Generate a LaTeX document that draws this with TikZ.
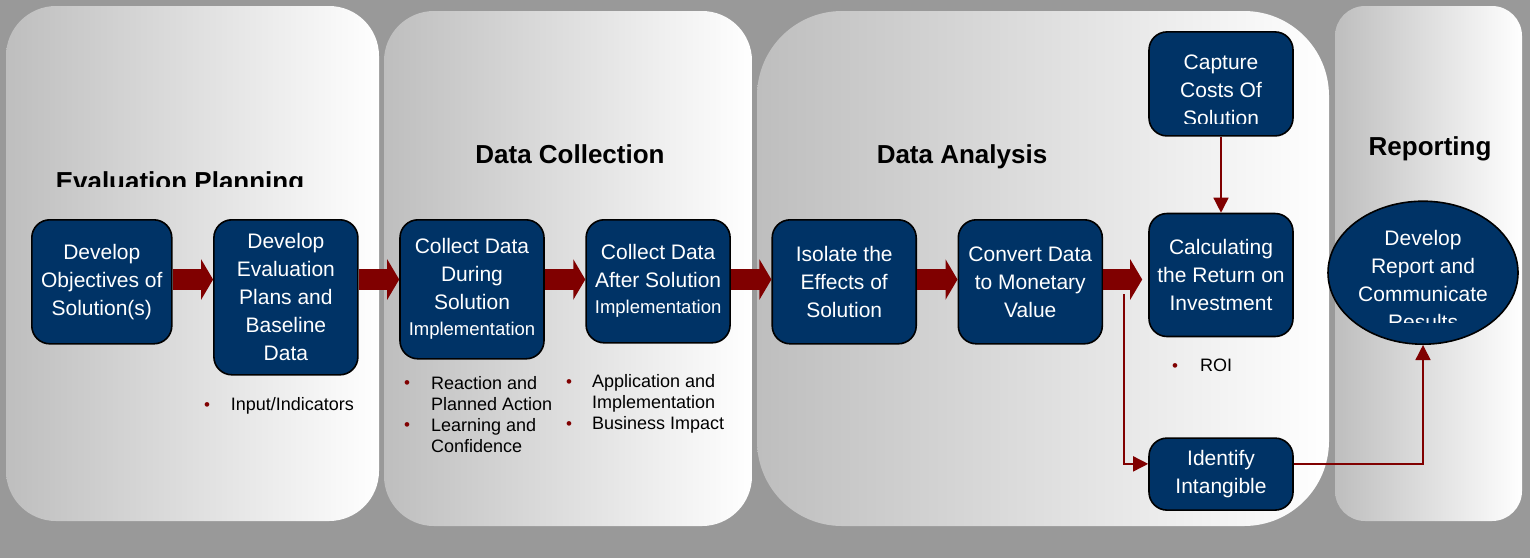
\documentclass[tikz,border=0pt]{standalone}
\usepackage{fontspec}
\setmainfont{Liberation Sans}
\usetikzlibrary{positioning,shapes.geometric,arrows.meta}
\definecolor{bggray}{HTML}{999999}
\definecolor{navy}{HTML}{003366}
\definecolor{arrowred}{HTML}{800000}
\definecolor{paneldark}{HTML}{BEBEBE}
\newcommand{\bdot}{\textcolor{arrowred}{\raisebox{0.5pt}{\fontsize{17}{17}\selectfont\textbullet}}}
\begin{document}
\begin{tikzpicture}[x=1pt,y=-1pt]
	\tikzstyle{phase} = [rectangle, anchor=north west, inner sep=0pt, outer sep=0pt, shading=axis, left color=paneldark, right color=white, rounded corners=50pt]
	\tikzstyle{proc} = [draw=black, line width=1.6pt, fill=navy, rectangle, rounded corners=18pt, minimum width=144pt, inner sep=2pt, text=white, align=center, font={\fontsize{21}{28}\selectfont}]
	\tikzstyle{proctxt} = [inner sep=0pt, text=white, align=center, font={\fontsize{21}{28}\selectfont}]
	\tikzstyle{title} = [anchor=base, inner sep=0pt, font={\fontsize{26}{30}\selectfont\bfseries}]
	\tikzstyle{bullets} = [anchor=north west, inner sep=0pt, font={\fontsize{18}{21}\selectfont}]
	\tikzstyle{bigarrow} = [arrowred, line width=21pt, -{Triangle[width=40pt,length=12pt]}]
	\tikzstyle{link} = [arrowred, line width=1.5pt, -{Triangle[width=15pt,length=15pt]}]
	\useasboundingbox (0,0) rectangle (1530,558);
	\fill[bggray] (0,0) rectangle (1530,558);
	% phases
	\node[phase, minimum width=373pt, minimum height=515pt] (ph1) at (6,6) {};
	\node[phase, minimum width=368pt, minimum height=515pt] (ph2) at (384,11) {};
	\node[phase, minimum width=572pt, minimum height=515pt, rounded corners=85pt] (ph3) at (757,11) {};
	\node[phase, minimum width=187pt, minimum height=515pt, rounded corners=30pt] (ph4) at (1335,6) {};
	\begin{scope}
		\clip (0,0) rectangle (1530,186.5);
		\node[title] (t1) at (180,190) {Evaluation Planning};
	\end{scope}
	\node[title] (t2) at (570,163) {Data Collection};
	\node[title] (t3) at (962,163) {Data Analysis};
	\node[title] (t4) at (1430,155.5) {Reporting};
	% process boxes
	\coordinate (lane) at (0,279.5);
	\node[proc, minimum width=140pt, minimum height=124pt, anchor=north west] (b1) at (31,219) {Develop\\Objectives of\\Solution(s)};
	\node[proc, minimum height=155pt] (b2) [below right=0pt and 40.5pt of b1.north east] {Develop\\Evaluation\\Plans and\\Baseline\\Data};
	\node[proc, minimum height=139pt] (b3) [below right=0pt and 40.5pt of b2.north east] {Collect Data\\During\\Solution\\[-2pt]{\fontsize{18.5}{24}\selectfont Implementation}};
	\node[proc, minimum height=123pt] (b4) [below right=0pt and 40.5pt of b3.north east] {Collect Data\\After Solution\\[-2pt]{\fontsize{18.5}{24}\selectfont Implementation}};
	\node[proc, minimum height=124pt] (b5) [below right=0pt and 40.5pt of b4.north east] {Isolate the\\Effects of\\Solution};
	\node[proc, minimum height=124pt] (b6) [below right=0pt and 40.5pt of b5.north east] {Convert Data\\to Monetary\\Value};
	\node[proc, minimum height=123pt] (calc) at (1221,275) {Calculating\\the Return on\\Investment};
	\node[proc, minimum height=104pt] (cap) [above=76pt of calc] {};
	\begin{scope}
		\clip (1149,30) rectangle (1294,123);
		\node[proctxt] (cap-txt) at (1221,90) {Capture\\Costs Of\\Solution};
	\end{scope}
	\node[proc, minimum height=72pt] (ident) [below=100pt of calc] {Identify\\Intangible};
	\node[proc, ellipse, minimum width=190pt, minimum height=143pt] (rep) at (1423,272.7) {};
	\begin{scope}
		\clip (1320,190) rectangle (1525,322);
		\node[proctxt] (rep-txt) at (1423,280) {Develop\\Report and\\Communicate\\Results};
	\end{scope}
	% flow
	\draw[bigarrow] (b1.east |- lane) -- (b2.west |- lane);
	\draw[bigarrow] (b2.east |- lane) -- (b3.west |- lane);
	\draw[bigarrow] (b3.east |- lane) -- (b4.west |- lane);
	\draw[bigarrow] (b4.east |- lane) -- (b5.west |- lane);
	\draw[bigarrow] (b5.east |- lane) -- (b6.west |- lane);
	\draw[bigarrow, shorten >=6pt] (b6.east |- lane) -- (calc.west |- lane);
	\coordinate (split) at (1124,294);
	\draw[link] (cap) -- (calc);
	\draw[link] (split) |- (ident.172);
	\draw[link] (ident.8) -| (rep.south);
	% measures
	\node[bullets] (l1) at (204,395.8) {\begin{tabular}{@{}p{26.7pt}@{}l@{}}\bdot & Input/Indicators\end{tabular}};
	\node[bullets] (l2) at (404,374.3) {\begin{tabular}{@{}p{27pt}@{}l@{}}\bdot & Reaction and\\ & Planned Action\\ \bdot & Learning and\\ & Confidence\end{tabular}};
	\node[bullets] (l3) at (566,372.6) {\begin{tabular}{@{}p{26pt}@{}l@{}}\bdot & Application and\\ & Implementation\\ \bdot & Business Impact\end{tabular}};
	\node[bullets] (l4) at (1172,356.8) {\begin{tabular}{@{}p{28pt}@{}l@{}}\bdot & ROI\end{tabular}};
\end{tikzpicture}
\end{document}
